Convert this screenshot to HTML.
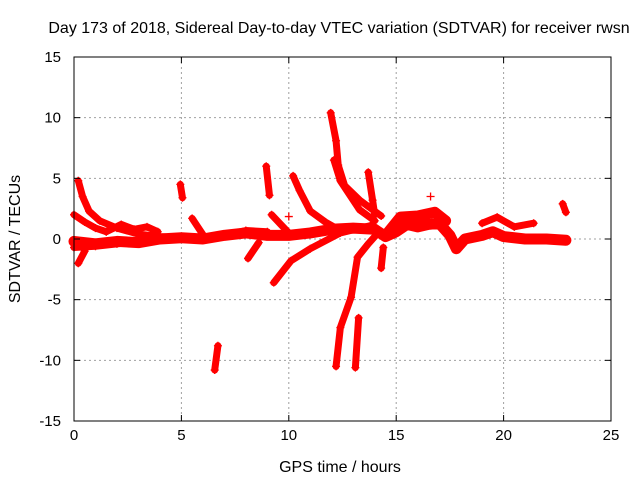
<!DOCTYPE html>
<html><head><meta charset="utf-8"><style>
body{margin:0;background:#fff}
svg{display:block;font-family:"Liberation Sans",sans-serif}
</style></head><body>
<svg id="chart" width="640" height="480" viewBox="0 0 640 480">
<rect width="640" height="480" fill="#fff"/>
<text x="339" y="33" text-anchor="middle" font-size="16">Day 173 of 2018, Sidereal Day-to-day VTEC variation (SDTVAR) for receiver rwsn</text>
<text x="340" y="472" text-anchor="middle" font-size="16">GPS time / hours</text>
<text transform="translate(20,239) rotate(-90)" text-anchor="middle" font-size="16">SDTVAR / TECUs</text>
<g id="grid"></g><g id="marks"></g><g id="axes"></g>
</svg>
<script>
const xTicks=[0,5,10,15,20,25];
const yTicks=[-15,-10,-5,0,5,10,15];
const mainBand=[[0,-0.2],[1,-0.4],[2,-0.2],[3,-0.3],[4,0],[5,0.1],[6,0],[7,0.3],[8,0.5],[9,0.3],[10,0.3],[11,0.5],[12,0.8],[13,0.9],[14,0.8],[14.5,0.2],[15,0.6],[15.5,1.2],[16,1.0],[16.5,1.2],[17,1.3],[17.5,0.3],[17.8,-0.8],[18.2,0],[19,0.3],[19.5,0.6],[20,0.2],[21,0],[22,0],[22.9,-0.1]];
const lowerBand=[[0,-0.7],[1,-0.6],[2,-0.4],[3,-0.2],[4,0],[5,0]];
const upperBand1=[[1.5,0.6],[2.2,1.2],[2.8,0.8],[3.4,1.0],[3.9,0.6]];
const band2=[[7,0.3],[8,0.7],[9,0.6]];
const upperBand3=[[19,1.3],[19.7,1.8],[20.5,1.0],[21.4,1.3]];
const band15=[[14.6,0.5],[15.2,1.8],[16,1.9],[16.8,2.2],[17.3,1.5]];
const arcA=[[0.2,4.8],[0.4,3.5],[0.7,2.3],[1.2,1.5],[2,0.9],[3,0.4],[4,0.2],[5,0.1]];
const arcB=[[0,2.0],[0.5,1.4],[1,0.9],[1.5,0.6]];
const arcC=[[0.2,-2.0],[0.5,-1.0]];
const seg5=[[4.95,4.5],[5.05,3.4]];
const seg55=[[5.5,1.7],[6.1,0.1]];
const seg8=[[8.1,-1.6],[8.6,-0.3]];
const seg66=[[6.55,-10.8],[6.7,-8.8]];
const seg9=[[8.95,6.0],[9.1,3.6]];
const hook10=[[9.2,2.0],[10,0.5]];
const arc10=[[10.2,5.2],[10.5,4.0],[11,2.3],[11.7,1.4],[12.4,0.7]];
const low10=[[9.3,-3.6],[10.1,-1.8],[11,-0.8],[12.4,0.5],[13.8,1.1]];
const steep12=[[11.95,10.4],[12.2,8.1],[12.3,6.1],[12.6,4.4],[13.3,3.2],[14.3,1.9]];
const steep12b=[[12.1,6.5],[12.4,4.8],[13.3,2.4],[14,1.5]];
const seg137=[[13.7,5.5],[13.9,3.2],[14,2.0]];
const lowSteep=[[12.2,-10.5],[12.4,-7.3],[12.9,-4.8],[13.2,-1.5],[13.7,-0.4],[14.1,0.4]];
const lowSteep2=[[13.1,-10.6],[13.25,-6.5]];
const seg143=[[14.3,-2.4],[14.4,-0.7]];
const seg228=[[22.75,2.9],[22.9,2.2]];
const outliers=[[10,1.85],[16.6,3.5]];
const thickTracks=[mainBand,band15];
const tracks=[lowerBand,upperBand1,band2,upperBand3,arcA,arcB,arcC,seg5,seg55,seg8,seg66,seg9,hook10,arc10,low10,steep12,steep12b,seg137,lowSteep,lowSteep2,seg143,seg228];

const L=74,R=611,T=57,B=421;
const xs=v=>L+(v-0)/25*(R-L);
const ys=v=>B-(v+15)/30*(B-T);
const NS="http://www.w3.org/2000/svg";
const grid=document.getElementById('grid'),marks=document.getElementById('marks'),axes=document.getElementById('axes');
function mk(tag,attrs,parent){const e=document.createElementNS(NS,tag);for(const k in attrs)e.setAttribute(k,attrs[k]);parent.appendChild(e);return e;}
xTicks.forEach(t=>{
 if(t>0&&t<25){const g=mk('line',{x1:xs(t),x2:xs(t),y1:T,y2:B,stroke:'#a0a0a0','stroke-dasharray':'2,3','stroke-width':1},grid);
 
 }
 const tx=mk('text',{x:xs(t),y:B+19,'text-anchor':'middle','font-size':15},axes);
 tx.textContent=t;
 
 
 mk('line',{x1:xs(t),x2:xs(t),y1:B,y2:B-6,stroke:'#000'},axes);
 mk('line',{x1:xs(t),x2:xs(t),y1:T,y2:T+6,stroke:'#000'},axes);
});
yTicks.forEach(t=>{
 if(t>-15&&t<15){const g=mk('line',{x1:L,x2:R,y1:ys(t),y2:ys(t),stroke:'#a0a0a0','stroke-dasharray':'2,3','stroke-width':1},grid);
 
 }
 const tx=mk('text',{x:L-13,y:ys(t)+5,'text-anchor':'end','font-size':15},axes);
 tx.textContent=t;
 
 
 mk('line',{x1:L,x2:L+6,y1:ys(t),y2:ys(t),stroke:'#000'},axes);
 mk('line',{x1:R,x2:R-6,y1:ys(t),y2:ys(t),stroke:'#000'},axes);
});
const frame=mk('rect',{x:L,y:T,width:R-L,height:B-T,fill:'none',stroke:'#000','stroke-width':1},axes);


function plus(t,v){
 const p=mk('path',{d:`M${xs(t)-4},${ys(v)}h8M${xs(t)},${ys(v)-4}v8`,stroke:'#f00','stroke-width':1.3},marks);
 
 
}
function drawTrack(tr,w){
 const pl=mk('polyline',{points:tr.map(p=>xs(p[0])+','+ys(p[1])).join(' '),fill:'none',stroke:'#f00','stroke-width':w,'stroke-linejoin':'round','stroke-linecap':'round'},marks);
 
 
 tr.forEach(p=>plus(p[0],p[1]));
}
thickTracks.forEach(tr=>drawTrack(tr,11));
tracks.forEach(tr=>drawTrack(tr,7));
outliers.forEach(p=>plus(p[0],p[1]));
</script>
</body></html>
